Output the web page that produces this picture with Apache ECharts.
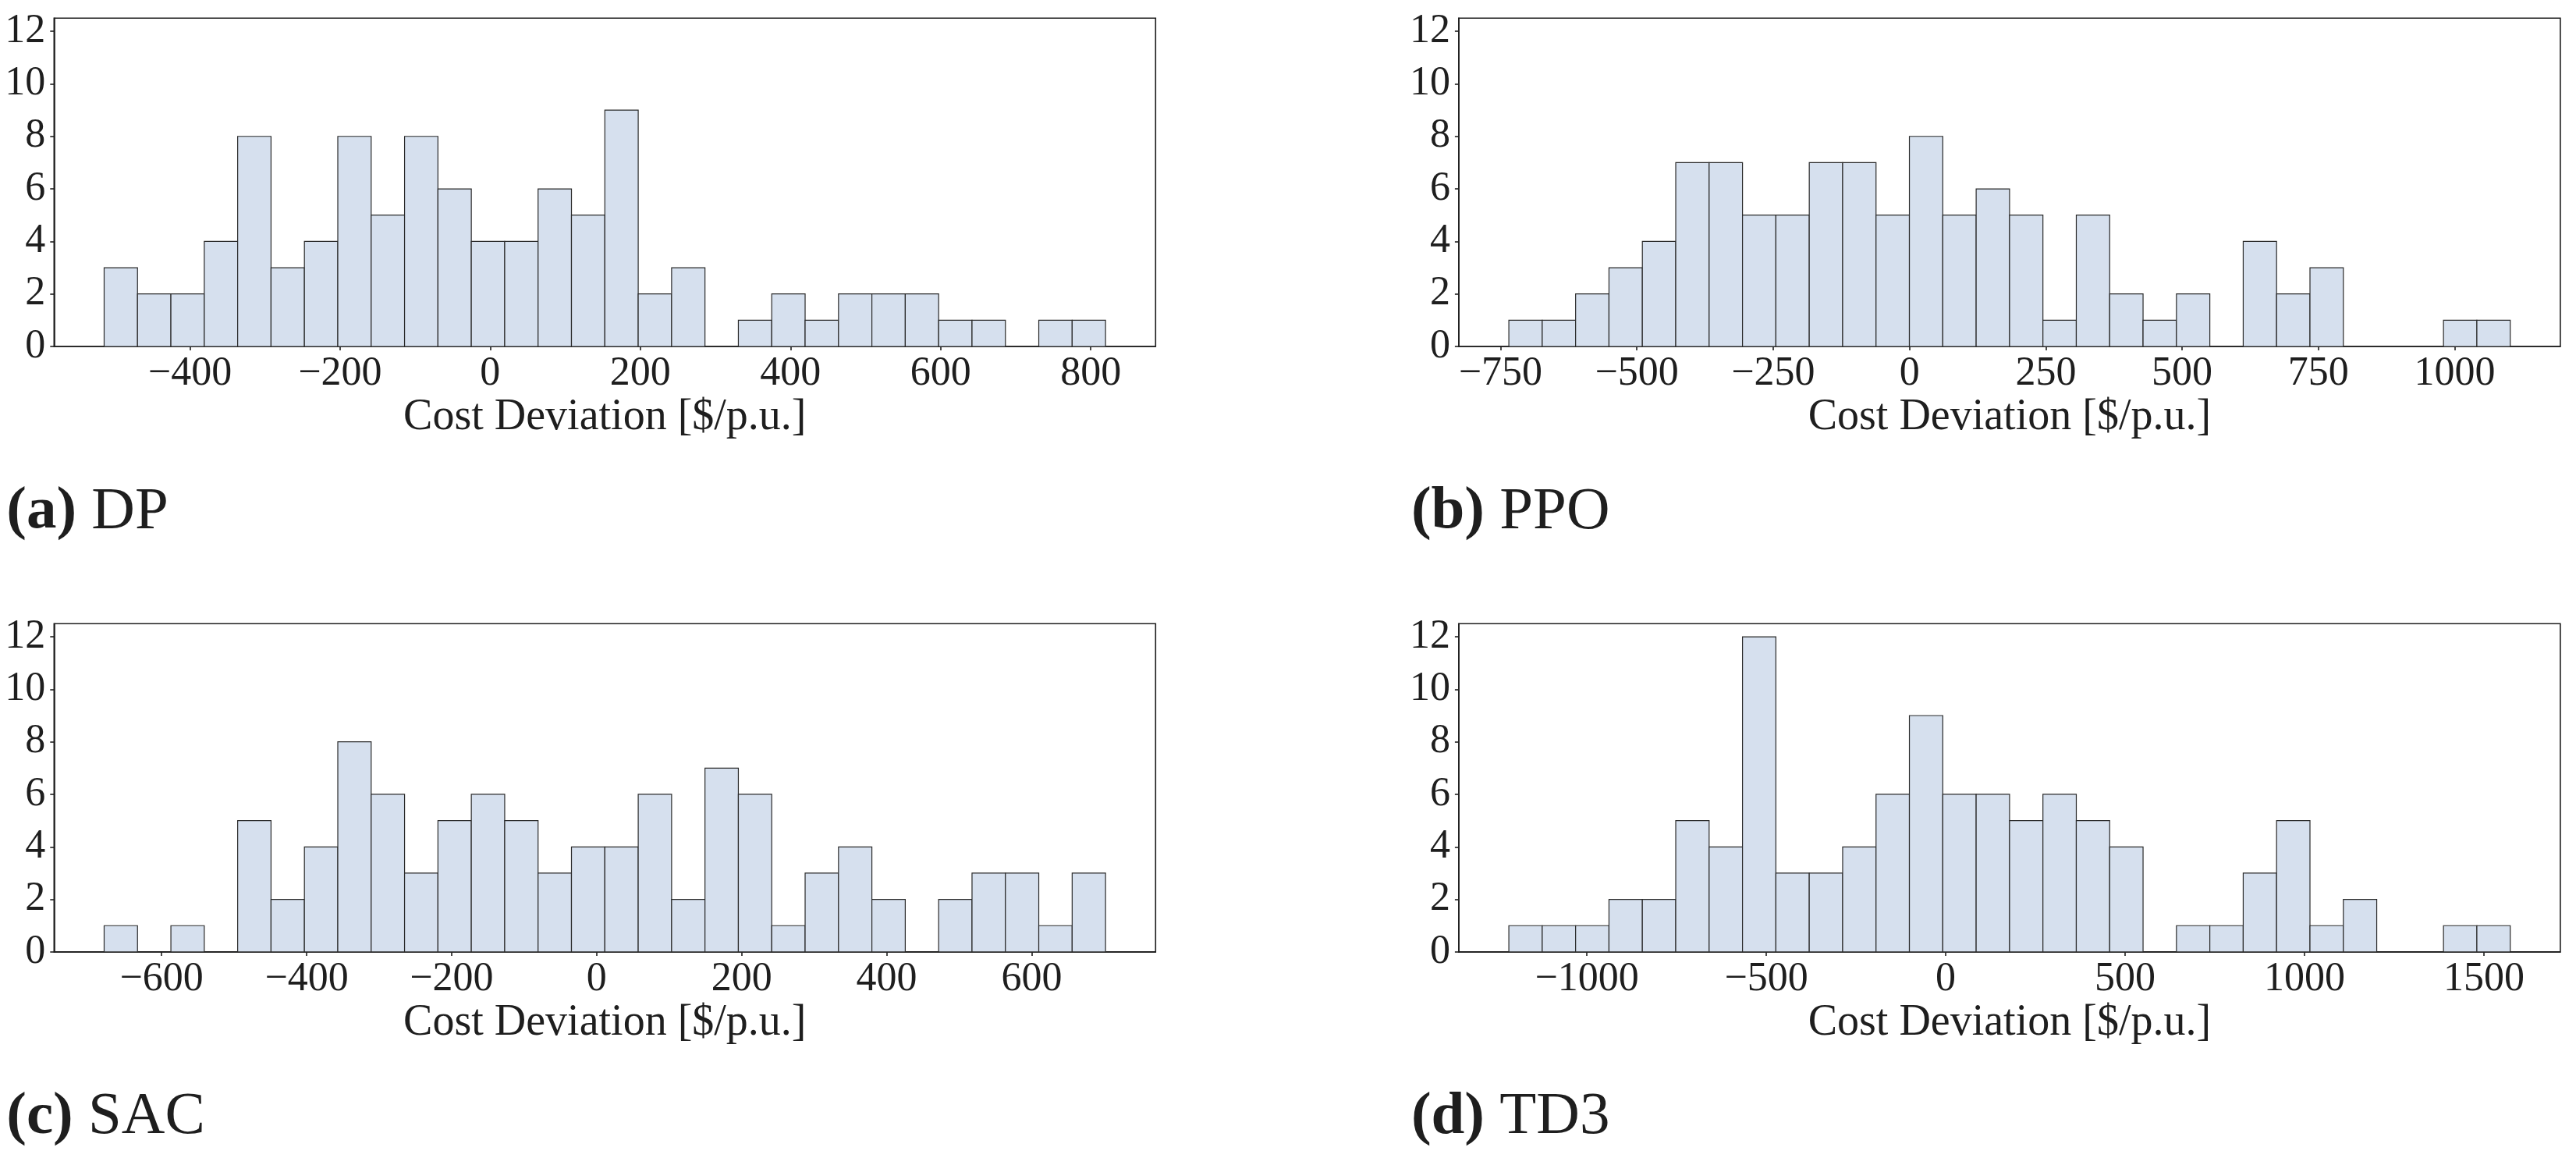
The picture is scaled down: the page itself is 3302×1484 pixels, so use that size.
<!DOCTYPE html>
<html><head><meta charset="utf-8">
<script src="https://cdn.jsdelivr.net/npm/echarts@6/dist/echarts.min.js"></script>
<style>html,body{margin:0;padding:0;background:#fff}#c{width:3302px;height:1484px}</style>
</head><body><div id="c"></div>
<script>
// ---- data ----
const dpCounts  = [3,2,2,4,8,3,4,8,5,8,6,4,4,6,5,9,2,3,0,1,2,1,2,2,2,1,1,0,1,1];
const dpRange   = [-514.3, 819.7];
const dpTicks   = [-400,-200,0,200,400,600,800];

const ppoCounts = [1,1,2,3,4,7,7,5,5,7,7,5,8,5,6,5,1,5,2,1,2,0,4,2,3,0,0,0,1,1];
const ppoRange  = [-734.8, 1101.8];
const ppoTicks  = [-750,-500,-250,0,250,500,750,1000];

const sacCounts = [1,0,1,0,5,2,4,8,6,3,5,6,5,3,4,4,6,2,7,6,1,3,4,2,0,2,3,3,1,3];
const sacRange  = [-679.3, 701.9];
const sacTicks  = [-600,-400,-200,0,200,400,600];

const td3Counts = [1,1,1,2,2,5,4,12,3,3,4,6,9,6,6,5,6,5,4,0,1,1,3,5,1,2,0,0,1,1];
const td3Range  = [-1217.3, 1573.2];
const td3Ticks  = [-1000,-500,0,500,1000,1500];

const yTicks = [0,2,4,6,8,10,12];
const yMax = 12.5;
const captionTags  = ['(a)','(b)','(c)','(d)'];
const captionNames = ['DP','PPO','SAC','TD3'];
const xTitle = 'Cost Deviation [$/p.u.]';

// ---- layout ----
const FONT = '"Liberation Serif", "Times New Roman", serif';
const INK = '#1e1e1e';
const plotW = 1412, plotH = 420.7;
const lefts = [69.3, 1869.9, 69.3, 1869.9];
const tops  = [23.3, 23.3, 799.2, 799.2];
const panels = [
  {counts: dpCounts,  range: dpRange,  ticks: dpTicks},
  {counts: ppoCounts, range: ppoRange, ticks: ppoTicks},
  {counts: sacCounts, range: sacRange, ticks: sacTicks},
  {counts: td3Counts, range: td3Range, ticks: td3Ticks}
];

function fmt(v){ return v < 0 ? '\u2212' + Math.abs(v) : String(v); }

const grid = [], xAxis = [], yAxis = [], series = [], graphic = [];
panels.forEach((p, i) => {
  const lo = p.range[0], hi = p.range[1], n = p.counts.length;
  const w = (hi - lo) / n, pad = 0.05 * (hi - lo);
  grid.push({left: lefts[i], top: tops[i], width: plotW, height: plotH,
    show: true, borderColor: INK, borderWidth: 1.6, backgroundColor: 'transparent',
    containLabel: false, outerBoundsMode: 'none'});
  xAxis.push({type: 'value', gridIndex: i, min: lo - pad, max: hi + pad,
    splitLine: {show: false},
    axisLine: {show: true, onZero: false, lineStyle: {color: INK, width: 1.6}},
    axisTick: {show: true, customValues: p.ticks, length: 5, lineStyle: {color: INK, width: 1.6}},
    axisLabel: {show: true, customValues: p.ticks, formatter: fmt, margin: 9,
      fontFamily: FONT, fontSize: 52, color: INK},
    name: xTitle, nameLocation: 'middle', nameGap: 63,
    nameTextStyle: {fontFamily: FONT, fontSize: 56, color: INK}
  });
  yAxis.push({type: 'value', gridIndex: i, min: 0, max: yMax,
    splitLine: {show: false},
    axisLine: {show: true, onZero: false, lineStyle: {color: INK, width: 1.6}},
    axisTick: {show: true, customValues: yTicks, length: 5, lineStyle: {color: INK, width: 1.6}},
    axisLabel: {show: true, customValues: yTicks, margin: 11,
      fontFamily: FONT, fontSize: 52, color: INK}
  });
  const data = [];
  p.counts.forEach((c, k) => { if (c > 0) data.push([lo + k * w, lo + (k + 1) * w, c]); });
  series.push({type: 'custom', xAxisIndex: i, yAxisIndex: i, data: data, silent: true,
    renderItem: function(params, api){
      const a = api.coord([api.value(0), api.value(2)]);
      const b = api.coord([api.value(1), 0]);
      return {type: 'rect',
        shape: {x: a[0], y: a[1], width: b[0] - a[0], height: b[1] - a[1]},
        style: {fill: '#d6e0ee', stroke: '#2a2a2a', lineWidth: 1.2}};
    }
  });
  graphic.push({type: 'text', x: lefts[i] - 61, y: tops[i] + 633,
    style: {text: '{b|' + captionTags[i] + '} ' + captionNames[i],
      font: '77px ' + FONT, fill: INK, verticalAlign: 'middle',
      rich: {b: {fontWeight: 'bold', fontSize: 77, fontFamily: FONT, fill: INK}}}});
});

const chart = echarts.init(document.getElementById('c'), null, {renderer: 'canvas'});
chart.setOption({backgroundColor: '#ffffff', animation: false,
  grid, xAxis, yAxis, series, graphic});
</script></body></html>
